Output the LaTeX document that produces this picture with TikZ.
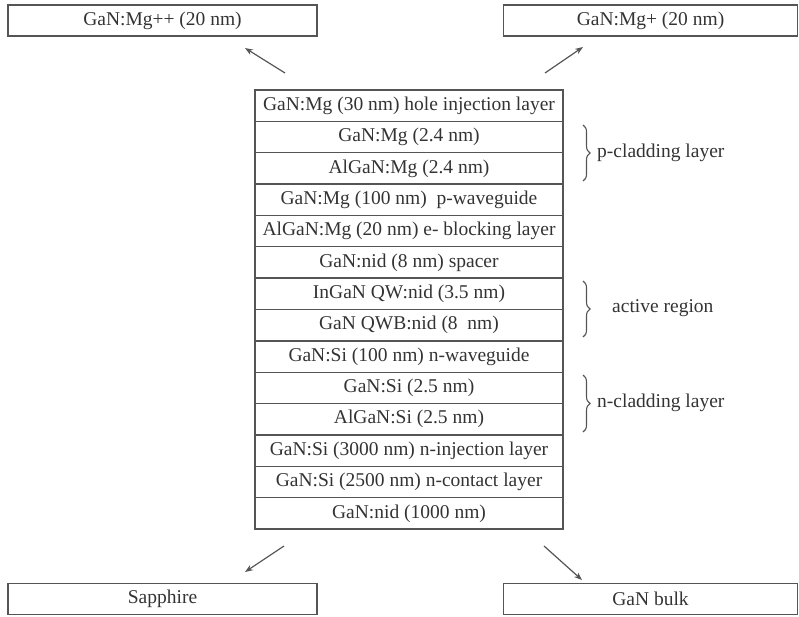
\documentclass[tikz,border=0pt]{standalone}
\usepackage{fontspec}
\setmainfont{Liberation Serif}
\usetikzlibrary{arrows.meta,decorations.pathreplacing}
\definecolor{linegray}{HTML}{555555}
\definecolor{textgray}{HTML}{333333}
\begin{document}
\begin{tikzpicture}[x=1pt,y=-1pt,
  every node/.style={font=\fontsize{19.5}{22}\selectfont, text=textgray},
  layer/.style={draw=linegray, line width=1.4pt, minimum width=308pt, minimum height=31.36pt, inner sep=0pt, outer sep=0pt, anchor=north west},
  sidebox/.style={draw=linegray, line width=1.4pt, minimum height=31pt, inner sep=0pt, outer sep=0pt},
  arr/.style={draw=linegray, line width=1.2pt, -{Stealth[length=8pt,width=6pt]}},
  brc/.style={draw=linegray, line width=1.1pt, decorate, decoration={brace, amplitude=7pt}},
  bracelabel/.style={anchor=west, inner sep=0pt}]
\useasboundingbox (0,0) rectangle (799,616);
\def\rh{31.357}
\node[layer] (L1) at (255,{90+0*\rh}) {GaN:Mg (30 nm) hole injection layer};
\node[layer] (L2) at (255,{90+1*\rh}) {GaN:Mg (2.4 nm)};
\node[layer] (L3) at (255,{90+2*\rh}) {AlGaN:Mg (2.4 nm)};
\node[layer] (L4) at (255,{90+3*\rh}) {GaN:Mg (100 nm)\ \ p-waveguide};
\node[layer] (L5) at (255,{90+4*\rh}) {AlGaN:Mg (20 nm) e- blocking layer};
\node[layer] (L6) at (255,{90+5*\rh}) {GaN:nid (8 nm) spacer};
\node[layer] (L7) at (255,{90+6*\rh}) {InGaN QW:nid (3.5 nm)};
\node[layer] (L8) at (255,{90+7*\rh}) {GaN QWB:nid (8\ \ nm)};
\node[layer] (L9) at (255,{90+8*\rh}) {GaN:Si (100 nm) n-waveguide};
\node[layer] (L10) at (255,{90+9*\rh}) {GaN:Si (2.5 nm)};
\node[layer] (L11) at (255,{90+10*\rh}) {AlGaN:Si (2.5 nm)};
\node[layer] (L12) at (255,{90+11*\rh}) {GaN:Si (3000 nm) n-injection layer};
\node[layer] (L13) at (255,{90+12*\rh}) {GaN:Si (2500 nm) n-contact layer};
\node[layer] (L14) at (255,{90+13*\rh}) {GaN:nid (1000 nm)};

\node[sidebox, minimum width=309pt] (TL) at (162.5,20.5) {GaN:Mg++ (20 nm)};
\node[sidebox, minimum width=294pt] (TR) at (650.5,20.5) {GaN:Mg+ (20 nm)};
\node[sidebox, minimum width=309pt] (BL) at (162.5,599) {Sapphire};
\node[sidebox, minimum width=294pt] (BR) at (650.5,599) {GaN bulk};

\coordinate (a1s) at (285,73); \coordinate (a1e) at (245,48);
\coordinate (a2s) at (545,73); \coordinate (a2e) at (583,47);
\coordinate (a3s) at (284,546); \coordinate (a3e) at (245,572);
\coordinate (a4s) at (544,546); \coordinate (a4e) at (582,580);
\draw[arr] (a1s) -- (a1e);
\draw[arr] (a2s) -- (a2e);
\draw[arr] (a3s) -- (a3e);
\draw[arr] (a4s) -- (a4e);

\coordinate (b1t) at (583,125); \coordinate (b1b) at (583,181);
\coordinate (b2t) at (583,281); \coordinate (b2b) at (583,337);
\coordinate (b3t) at (583,375); \coordinate (b3b) at (583,432);
\draw[brc] (b1t) -- (b1b);
\draw[brc] (b2t) -- (b2b);
\draw[brc] (b3t) -- (b3b);
\node[bracelabel] (P) at (597,153) {p-cladding layer};
\node[bracelabel] (A) at (612,308) {active region};
\node[bracelabel] (N) at (597,403) {n-cladding layer};
\end{tikzpicture}
\end{document}
